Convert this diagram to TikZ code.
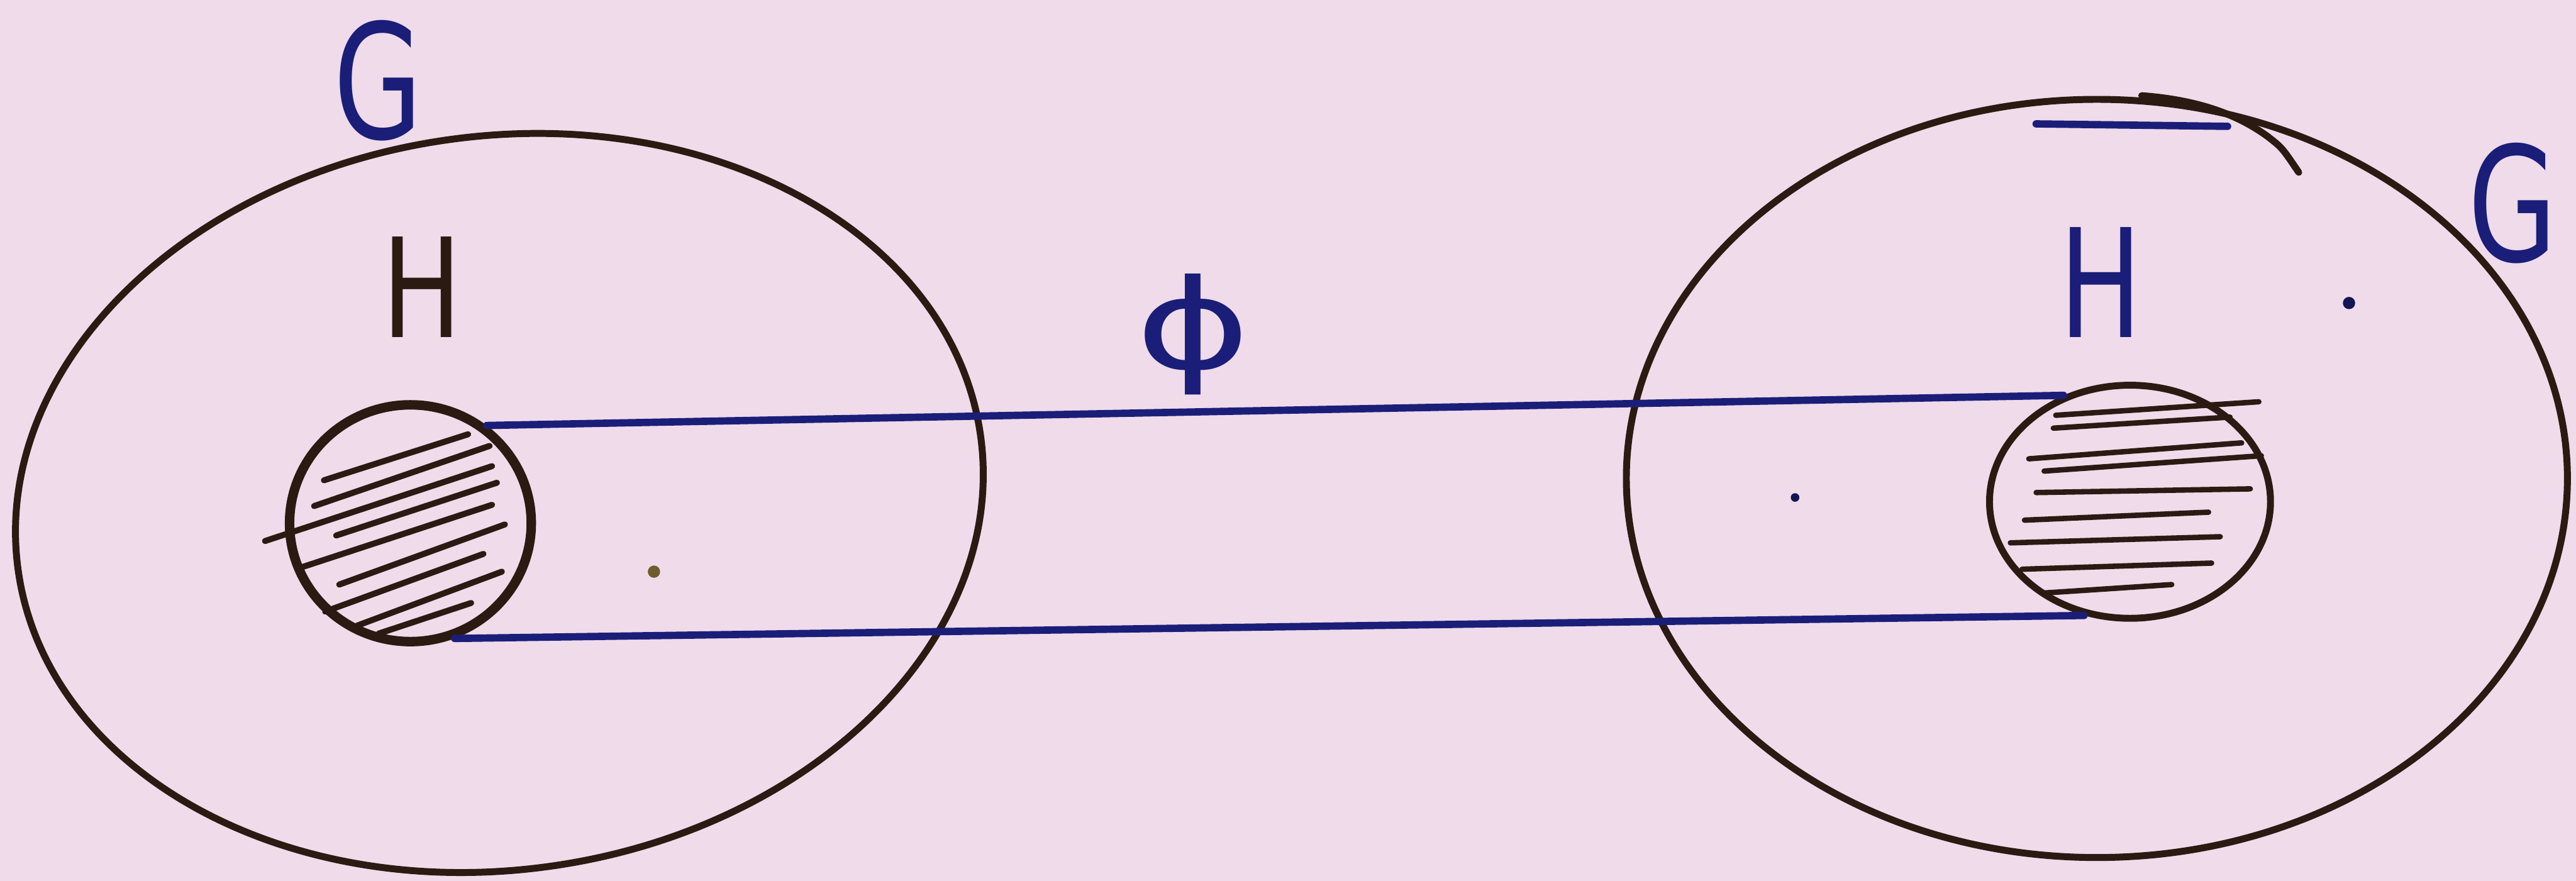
\documentclass[tikz,border=0pt]{standalone}
\usepackage{fontspec}
\setmainfont{DejaVu Sans}
\usetikzlibrary{shapes.geometric}
\definecolor{paper}{HTML}{EFDBEA}
\definecolor{penblue}{HTML}{1B1E78}
\definecolor{penblack}{HTML}{2B1A12}
\definecolor{speck}{HTML}{6E5C2C}

\begin{document}
\begin{tikzpicture}[
  ink/.style={draw=penblack,line width=3.2pt,line cap=round},
  grp/.style={ellipse,ink,inner sep=0pt},
  sub/.style={ellipse,ink,inner sep=0pt},
  hatch/.style={penblack,line width=2.8pt,line cap=round},
  phimap/.style={penblue,line width=3.4pt,line cap=round},
  lbl/.style={inner sep=0pt,font=\fontsize{74}{80}\selectfont}
]
\useasboundingbox (0,0) rectangle (41.99,14.36);
\fill[paper] (0,0) rectangle (41.99,14.36);

% the two copies of G
\node[grp,rotate=8,minimum width=15.84cm,minimum height=11.96cm] (gL) at (8.14,6.16) {};
\node[grp,minimum width=15.34cm,minimum height=12.36cm] (gR) at (34.18,6.56) {};
\draw[ink] (34.91,12.80) .. controls (36.0,12.72) and (36.6,12.40) .. (36.97,12.13)
  .. controls (37.2,11.95) .. (37.47,11.55);
\draw[phimap] (33.19,12.34) -- (36.31,12.30);

% shaded subgroups H
\node[sub,line width=4.4pt,minimum width=3.94cm,minimum height=3.86cm] (hL) at (6.69,5.83) {};
\node[sub,minimum width=4.58cm,minimum height=3.80cm] (hR) at (34.72,6.18) {};
\foreach \xa/\ya/\xb/\yb in {5.28/6.53/7.63/7.28, 5.12/6.11/7.98/7.09, 4.32/5.54/8.02/6.76,
    5.48/5.63/8.10/6.49, 4.85/5.09/8.02/6.13, 5.53/4.83/8.23/5.81, 5.30/4.39/7.88/5.33,
    5.82/4.16/8.18/5.04, 6.17/4.03/7.68/4.53}
  \draw[hatch] (\xa,\ya) -- (\xb,\yb);
\foreach \xa/\ya/\xb/\yb in {33.51/7.59/36.82/7.81, 33.47/7.38/36.35/7.56, 33.07/6.88/36.54/7.14,
    33.32/6.68/36.86/6.93, 33.19/6.33/36.68/6.39, 33.00/5.88/36.00/6.01, 32.77/5.51/36.19/5.61,
    32.96/5.08/36.05/5.18, 33.28/4.69/35.40/4.83}
  \draw[hatch,line width=2.5pt] (\xa,\ya) -- (\xb,\yb);

% the map between them
\draw[phimap] (hL.52) -- (hR.122);
\draw[phimap] (hL.291) -- (hR.248);

% labels
\node[lbl,text=penblue,xscale=.72] (gLlab) at (6.16,13.05) {G};
\node[lbl,text=penblue,xscale=.72] (gRlab) at (40.96,11.05) {G};
\node[lbl,text=penblack,xscale=.77,font=\fontsize{64}{70}\selectfont] (hLlab) at (6.88,9.68) {H};
\node[lbl,text=penblue,xscale=.73,font=\fontsize{70}{76}\selectfont] (hRlab) at (34.24,9.76) {H};
\node[lbl,text=penblue,xscale=1.4,font=\fontsize{58}{64}\selectfont] (philab) at (19.45,8.91) {ϕ};

% loose points
\fill[speck] (10.66,5.04) circle (0.1);
\fill[penblue!70!black] (29.26,6.25) circle (0.07);
\fill[penblue!70!black] (38.29,9.42) circle (0.1);
\end{tikzpicture}
\end{document}
